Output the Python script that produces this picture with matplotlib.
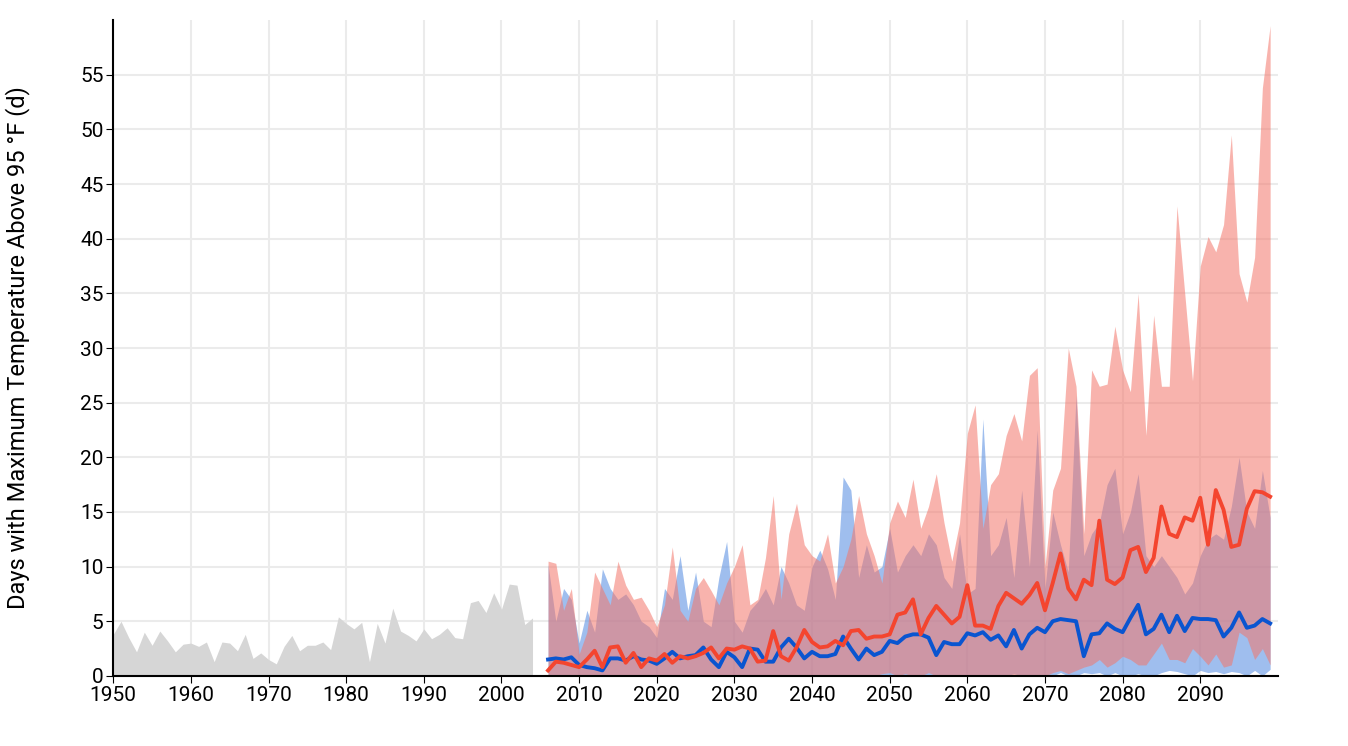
import numpy as np
import matplotlib
matplotlib.use("Agg")
import matplotlib.pyplot as plt

plt.rcParams['font.family'] = ['Roboto', 'DejaVu Sans']

# historical observed (1950-2004)
hist_years = np.arange(1950, 2005)
hist_vals = [3.8, 5.0, 3.5, 2.2, 4.0, 2.8, 4.1, 3.2, 2.2, 2.9,
             3.0, 2.7, 3.1, 1.3, 3.1, 3.0, 2.3, 3.8, 1.6, 2.1,
             1.5, 1.1, 2.7, 3.7, 2.3, 2.8, 2.8, 3.1, 2.4, 5.4,
             4.8, 4.3, 4.9, 1.3, 4.8, 3.0, 6.2, 4.1, 3.7, 3.2,
             4.3, 3.4, 3.8, 4.4, 3.5, 3.4, 6.7, 6.9, 5.8, 7.6,
             6.1, 8.4, 8.3, 4.7, 5.3]

# projections (2006-2099)
proj_years = np.arange(2006, 2100)

low_med = [1.5, 1.6, 1.5, 1.7,
           1.0, 0.8, 0.7, 0.5, 1.6, 1.6, 1.4, 1.8, 1.5, 1.4,
           1.1, 1.6, 2.2, 1.6, 1.8, 1.9, 2.6, 1.5, 0.8, 2.2,
           1.7, 0.8, 2.5, 2.4, 1.3, 1.3, 2.6, 3.4, 2.6, 1.6,
           2.2, 1.8, 1.8, 2.0, 3.6, 2.5, 1.5, 2.5, 1.9, 2.2,
           3.2, 3.0, 3.6, 3.8, 3.8, 3.5, 1.9, 3.1, 2.9, 2.9,
           3.9, 3.7, 4.0, 3.3, 3.7, 2.7, 4.2, 2.5, 3.8, 4.4,
           4.0, 5.0, 5.2, 5.1, 5.0, 1.8, 3.8, 3.9, 4.8, 4.3,
           4.0, 5.3, 6.5, 3.8, 4.3, 5.6, 4.0, 5.5, 4.1, 5.3,
           5.2, 5.2, 5.1, 3.6, 4.4, 5.8, 4.4, 4.6, 5.2, 4.8]
low_hi = [10.2, 5.0, 8.0, 7.0,
          3.0, 6.0, 4.0, 9.8, 8.0, 7.0, 7.5, 6.5, 5.0, 4.5,
          3.5, 8.0, 7.0, 11.0, 6.0, 9.5, 5.0, 4.5, 9.0, 12.3,
          5.0, 4.0, 6.0, 6.8, 8.0, 6.5, 10.0, 8.5, 6.5, 6.0,
          10.0, 11.5, 9.8, 7.0, 18.2, 17.0, 9.0, 12.0, 9.5, 10.0,
          13.5, 9.5, 11.0, 12.0, 11.0, 13.0, 12.0, 9.0, 8.0, 13.0,
          7.5, 8.0, 23.5, 11.0, 12.0, 14.5, 9.0, 17.0, 10.0, 22.5,
          8.0, 15.0, 12.0, 9.5, 25.7, 11.0, 13.0, 14.0, 17.5, 19.0,
          13.0, 15.0, 18.5, 11.0, 10.0, 11.0, 10.0, 9.0, 7.5, 8.5,
          11.0, 12.5, 13.0, 12.5, 15.5, 20.0, 15.0, 13.5, 18.8, 14.5]
low_lo = [0.0, 0.0, 0.0, 0.0,
          0.0, 0.0, 0.0, 0.0, 0.0, 0.0, 0.0, 0.0, 0.0, 0.0,
          0.0, 0.0, 0.0, 0.0, 0.0, 0.0, 0.0, 0.0, 0.0, 0.0,
          0.0, 0.0, 0.0, 0.0, 0.0, 0.0, 0.0, 0.0, 0.0, 0.0,
          0.0, 0.0, 0.0, 0.0, 0.0, 0.0, 0.0, 0.0, 0.0, 0.0,
          0.0, 0.0, 0.0, 0.0, 0.0, 0.0, 0.0, 0.0, 0.0, 0.0,
          0.0, 0.0, 0.0, 0.0, 0.0, 0.0, 0.2, 0.0, 0.0, 0.0,
          0.0, 0.0, 0.3, 0.0, 0.0, 0.3, 0.2, 0.3, 0.0, 0.3,
          0.0, 0.0, 0.2, 0.0, 0.0, 0.3, 0.5, 0.4, 0.2, 0.0,
          0.5, 0.3, 0.4, 0.2, 0.4, 0.3, 0.0, 0.5, 0.0, 0.6]

high_med = [0.5, 1.3, 1.2, 1.0,
            0.8, 1.5, 2.3, 0.8, 2.6, 2.7, 1.2, 2.1, 0.8, 1.6,
            1.4, 2.0, 1.2, 1.8, 1.6, 1.8, 2.1, 2.6, 1.6, 2.5,
            2.4, 2.7, 2.5, 1.3, 1.4, 4.1, 1.8, 1.4, 2.6, 4.2,
            3.1, 2.6, 2.7, 3.2, 2.8, 4.1, 4.2, 3.4, 3.6, 3.6,
            3.8, 5.6, 5.8, 7.0, 3.8, 5.3, 6.4, 5.6, 4.8, 5.4,
            8.3, 4.6, 4.6, 4.3, 6.4, 7.6, 7.1, 6.6, 7.4, 8.5,
            6.0, 8.5, 11.2, 8.0, 7.0, 8.8, 8.3, 14.2, 8.8, 8.4,
            9.0, 11.5, 11.8, 9.5, 10.8, 15.5, 13.0, 12.7, 14.5, 14.2,
            16.3, 12.0, 17.0, 15.2, 11.8, 12.0, 15.3, 16.9, 16.8, 16.4]
high_hi = [10.5, 10.3, 6.0, 8.0,
           2.0, 4.0, 9.5, 8.0, 6.5, 10.5, 8.3, 7.0, 7.2, 6.0,
           4.5, 6.5, 11.8, 6.0, 5.0, 8.0, 9.0, 7.8, 6.5, 8.5,
           10.0, 12.0, 6.5, 7.0, 10.8, 16.5, 7.0, 13.0, 15.8, 12.0,
           11.0, 10.5, 13.0, 8.5, 10.0, 12.5, 16.5, 13.0, 11.0, 8.5,
           14.0, 16.0, 14.5, 18.0, 13.5, 15.5, 18.5, 14.0, 10.5, 14.0,
           22.2, 24.8, 13.5, 17.5, 18.5, 22.0, 24.0, 21.5, 27.5, 28.2,
           10.0, 17.0, 19.0, 30.0, 26.5, 13.0, 28.0, 26.5, 26.7, 32.0,
           28.0, 26.0, 35.0, 22.0, 33.0, 26.5, 26.5, 43.0, 35.0, 27.0,
           37.5, 40.2, 38.8, 41.3, 49.5, 36.8, 34.2, 38.3, 53.8, 59.5]
high_lo = [0.0, 0.0, 0.0, 0.0,
           0.0, 0.0, 0.0, 0.0, 0.0, 0.0, 0.0, 0.0, 0.0, 0.0,
           0.0, 0.0, 0.0, 0.0, 0.0, 0.0, 0.0, 0.0, 0.0, 0.0,
           0.0, 0.0, 0.0, 0.0, 0.0, 0.0, 0.0, 0.0, 0.0, 0.0,
           0.0, 0.0, 0.0, 0.0, 0.0, 0.0, 0.0, 0.0, 0.0, 0.2,
           0.3, 0.0, 0.2, 0.0, 0.0, 0.3, 0.0, 0.0, 0.0, 0.0,
           0.0, 0.0, 0.0, 0.0, 0.0, 0.0, 0.0, 0.0, 0.0, 0.0,
           0.0, 0.3, 0.5, 0.2, 0.5, 0.8, 1.0, 1.5, 0.8, 1.2,
           1.8, 1.5, 1.0, 1.0, 2.0, 3.0, 1.5, 1.5, 1.2, 2.5,
           1.8, 1.0, 2.0, 0.8, 1.0, 4.0, 3.5, 1.5, 2.5, 1.0]

fig = plt.figure(figsize=(13.48, 7.46), dpi=100)
ax = fig.add_axes([0.084, 0.094, 0.864, 0.879])

ax.fill_between(hist_years, 0, hist_vals, color="#d6d6d6", lw=0)
ax.fill_between(proj_years, low_lo, low_hi, color="#5f93e3", alpha=0.6, lw=0)
ax.fill_between(proj_years, high_lo, high_hi, color="#f3766a", alpha=0.55, lw=0)
ax.plot(proj_years, low_med, color="#0a55d0", lw=2.8)
ax.plot(proj_years, high_med, color="#f4452f", lw=2.8)

ax.set_xlim(1950, 2100)
ax.set_ylim(0, 60)
ax.set_xticks(range(1950, 2100, 10))
ax.set_yticks(range(0, 60, 5))
ax.grid(True, color="#ebebeb", lw=1.5)
ax.set_axisbelow(True)
for s in ["top", "right"]:
    ax.spines[s].set_visible(False)
for s in ["left", "bottom"]:
    ax.spines[s].set_linewidth(1.5)
ax.tick_params(labelsize=15, length=5, pad=2)
ax.set_ylabel("Days with Maximum Temperature Above 95 °F (d)", fontsize=17, labelpad=36)

fig.savefig("out.png", dpi=100)
